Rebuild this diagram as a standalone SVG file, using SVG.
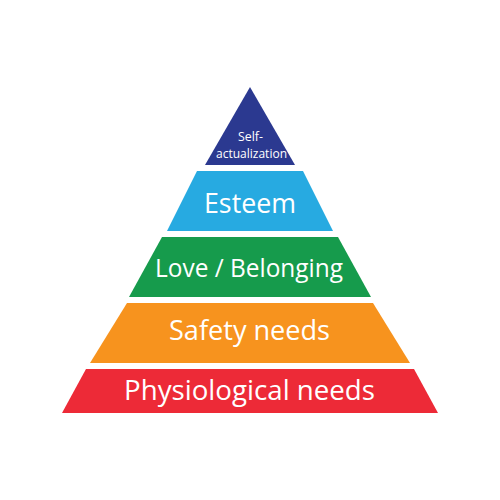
<svg xmlns="http://www.w3.org/2000/svg" width="500" height="500" viewBox="0 0 500 500">
<style>
.lbl{font-family:"Open Sans","Noto Sans","Liberation Sans",sans-serif;fill:#ffffff;text-anchor:middle}
</style>
<rect x="0" y="0" width="500" height="500" fill="#ffffff"/>
<g id="self-actualization">
<polygon points="250,87 295,165 205,165" fill="#2b3990"/>
<text class="lbl" x="250.5" y="141" font-size="13" textLength="25" lengthAdjust="spacingAndGlyphs">Self-</text>
<text class="lbl" x="251.5" y="158" font-size="13" textLength="71" lengthAdjust="spacingAndGlyphs">actualization</text>
</g>
<g id="esteem">
<polygon points="197,171 303,171 333,231 167,231" fill="#27aae1"/>
<text class="lbl" x="250" y="213" font-size="27" textLength="92" lengthAdjust="spacingAndGlyphs">Esteem</text>
</g>
<g id="love">
<polygon points="162,237 338,237 371,297 129,297" fill="#169b4c"/>
<text class="lbl" x="249" y="277" font-size="26" textLength="188" lengthAdjust="spacingAndGlyphs">Love / Belonging</text>
</g>
<g id="safety">
<polygon points="127,303 373,303 410,363 90,363" fill="#f7931e"/>
<text class="lbl" x="249.5" y="340" font-size="28" textLength="161" lengthAdjust="spacingAndGlyphs">Safety needs</text>
</g>
<g id="physiological">
<polygon points="86,369 414,369 438,413 62,413" fill="#ed2a37"/>
<text class="lbl" x="249.5" y="400" font-size="28" textLength="251" lengthAdjust="spacingAndGlyphs">Physiological needs</text>
</g>
<g id="connectors"/>
</svg>
